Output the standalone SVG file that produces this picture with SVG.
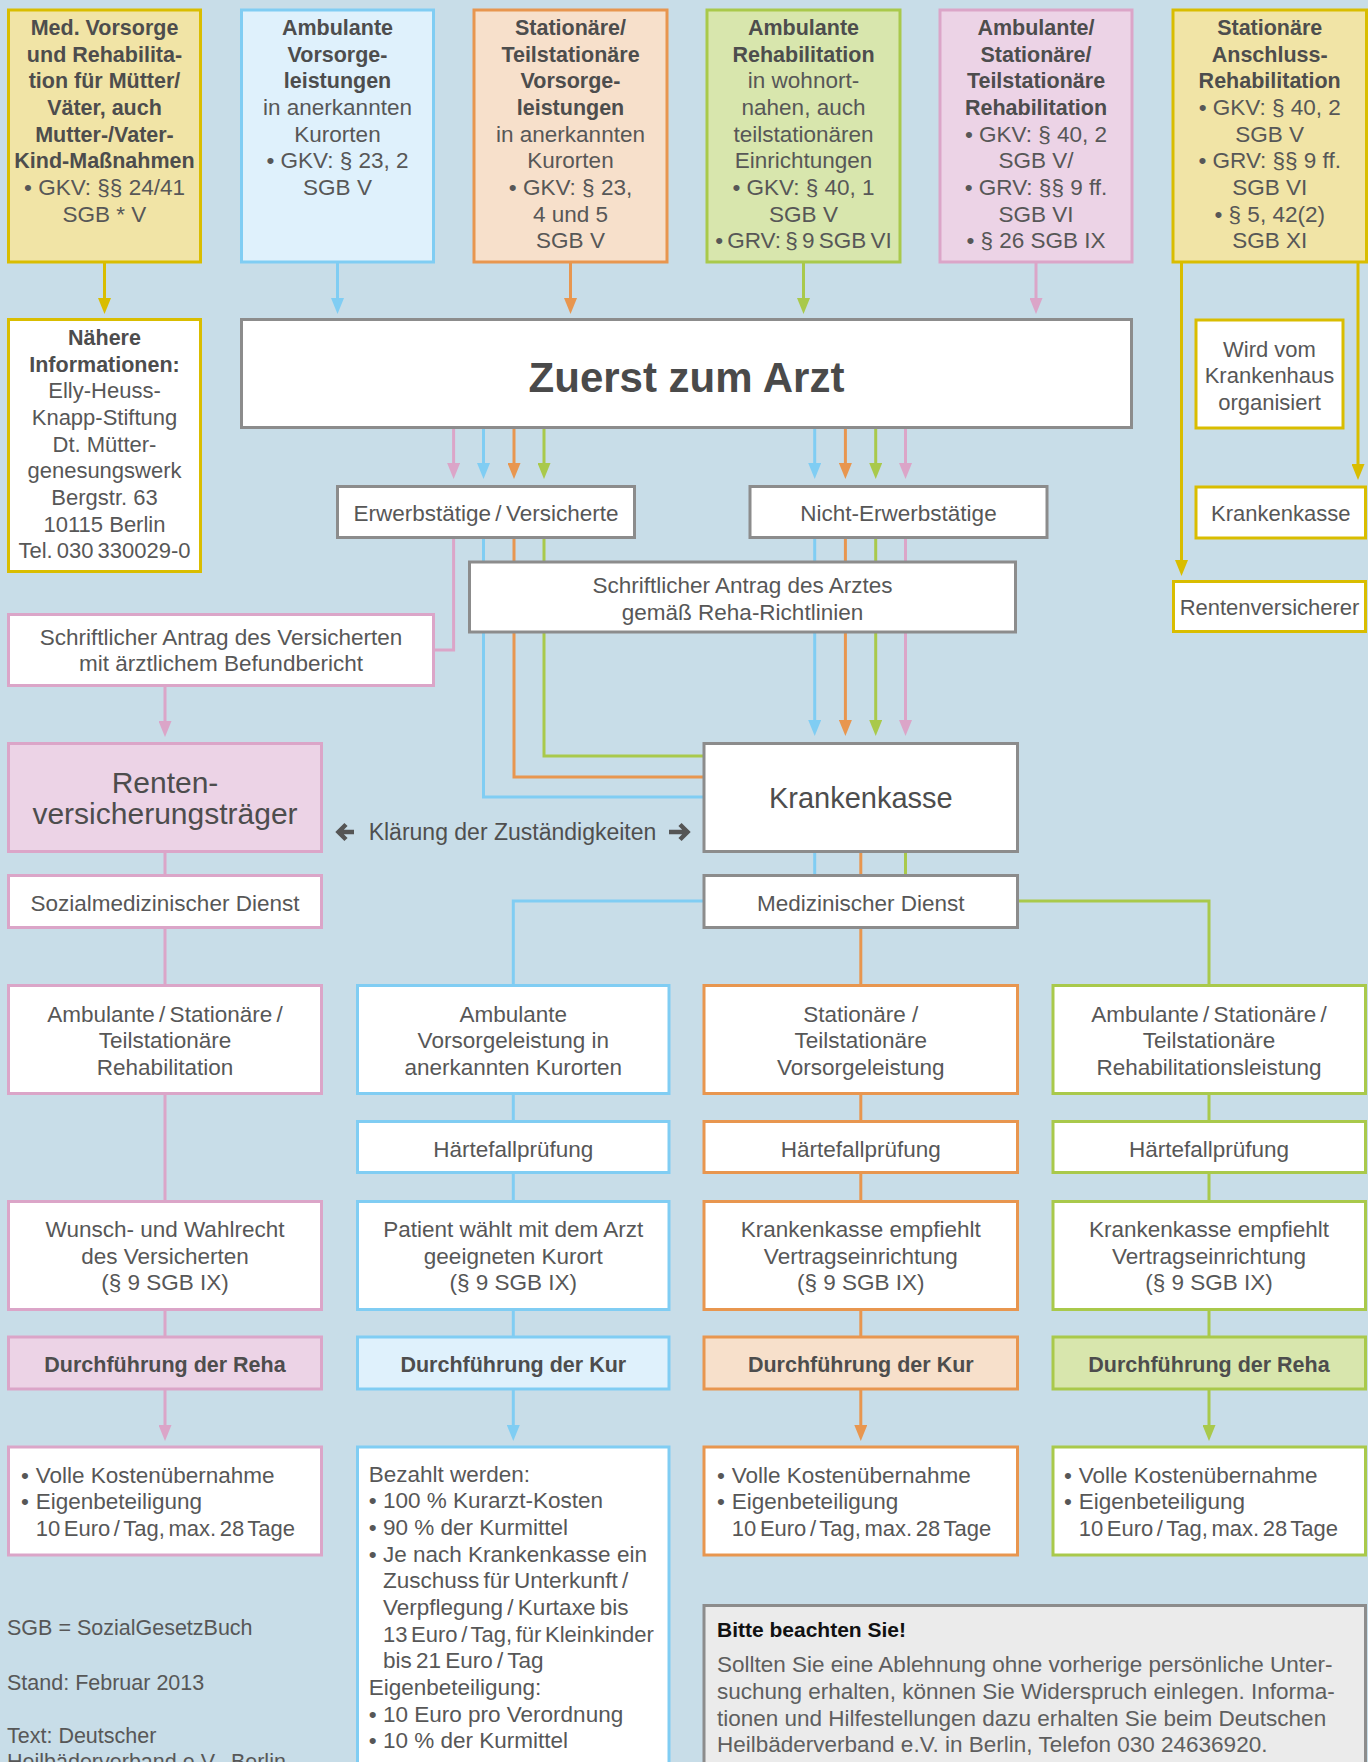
<svg xmlns="http://www.w3.org/2000/svg" width="1368" height="1762" viewBox="0 0 1368 1762">
<style>
text{font-family:"Liberation Sans",Arial,sans-serif;fill:#575757;font-size:22.5px;text-anchor:middle}
.b{font-weight:bold;fill:#4d4d4d;font-size:21.5px}
.s{font-size:22px}
.l{text-anchor:start}
.ws{word-spacing:-2px}
.ws2{word-spacing:-2.5px}
.n{stroke-width:3}
.wht{fill:#ffffff}
.gy{stroke:#8c8c8c}
.ye{stroke:#d9bd00}
.bl{stroke:#80cdf3}
.or{stroke:#e8964f}
.gr{stroke:#a9c94b}
.pk{stroke:#dba5c8}
.fye{fill:#f1e4a6}
.fbl{fill:#dff1fc}
.for{fill:#f7e0cb}
.fgr{fill:#d8e6ad}
.fpk{fill:#ecd3e6}
#connectors path{fill:none;stroke-width:3}
</style>
<defs>
<marker id="ay" viewBox="0 0 16 13" refX="8" refY="6.5" markerWidth="16" markerHeight="13" markerUnits="userSpaceOnUse" orient="auto"><path d="M0,0 L16,6.5 L0,13 z" fill="#d9bd00"/></marker>
<marker id="ab" viewBox="0 0 16 13" refX="8" refY="6.5" markerWidth="16" markerHeight="13" markerUnits="userSpaceOnUse" orient="auto"><path d="M0,0 L16,6.5 L0,13 z" fill="#80cdf3"/></marker>
<marker id="ao" viewBox="0 0 16 13" refX="8" refY="6.5" markerWidth="16" markerHeight="13" markerUnits="userSpaceOnUse" orient="auto"><path d="M0,0 L16,6.5 L0,13 z" fill="#e8964f"/></marker>
<marker id="ag" viewBox="0 0 16 13" refX="8" refY="6.5" markerWidth="16" markerHeight="13" markerUnits="userSpaceOnUse" orient="auto"><path d="M0,0 L16,6.5 L0,13 z" fill="#a9c94b"/></marker>
<marker id="ap" viewBox="0 0 16 13" refX="8" refY="6.5" markerWidth="16" markerHeight="13" markerUnits="userSpaceOnUse" orient="auto"><path d="M0,0 L16,6.5 L0,13 z" fill="#dba5c8"/></marker>
</defs>
<rect x="0" y="0" width="1368" height="1762" fill="#c8dde8"/>

<g id="connectors">
<path class="ye" d="M104.5,262 V306" marker-end="url(#ay)"/>
<path class="bl" d="M337.5,262 V306" marker-end="url(#ab)"/>
<path class="or" d="M570.5,262 V306" marker-end="url(#ao)"/>
<path class="gr" d="M803.5,262 V306" marker-end="url(#ag)"/>
<path class="pk" d="M1036,262 V306" marker-end="url(#ap)"/>
<path class="ye" d="M1181.5,262 V568" marker-end="url(#ay)"/>
<path class="ye" d="M1358,262 V472" marker-end="url(#ay)"/>
<path class="pk" d="M453.6,428 V471" marker-end="url(#ap)"/>
<path class="bl" d="M483.5,428 V471" marker-end="url(#ab)"/>
<path class="or" d="M514,428 V471" marker-end="url(#ao)"/>
<path class="gr" d="M544,428 V471" marker-end="url(#ag)"/>
<path class="bl" d="M814.7,428 V471" marker-end="url(#ab)"/>
<path class="or" d="M845.4,428 V471" marker-end="url(#ao)"/>
<path class="gr" d="M875.7,428 V471" marker-end="url(#ag)"/>
<path class="pk" d="M905.5,428 V471" marker-end="url(#ap)"/>
<path class="pk" d="M453.6,538 V650 H434"/>
<path class="bl" d="M483.5,538 V797 H704"/>
<path class="or" d="M514,538 V777 H704"/>
<path class="gr" d="M544,538 V756 H704"/>
<path class="bl" d="M814.7,538 V728" marker-end="url(#ab)"/>
<path class="or" d="M845.4,538 V728" marker-end="url(#ao)"/>
<path class="gr" d="M875.7,538 V728" marker-end="url(#ag)"/>
<path class="pk" d="M905.5,538 V728" marker-end="url(#ap)"/>
<path class="pk" d="M165,686 V729" marker-end="url(#ap)"/>
<path class="pk" d="M165,851 V876"/>
<path class="pk" d="M165,927 V986"/>
<path class="pk" d="M165,1093 V1202"/>
<path class="pk" d="M165,1309 V1338"/>
<path class="pk" d="M165,1389 V1433" marker-end="url(#ap)"/>
<path class="bl" d="M814.7,851 V876"/>
<path class="or" d="M860.8,851 V876"/>
<path class="gr" d="M905.5,851 V876"/>
<path class="bl" d="M704,901 H513.3 V986"/>
<path class="or" d="M860.8,927 V986"/>
<path class="gr" d="M1017.5,901 H1209 V986"/>
<path class="bl" d="M513.3,1093 V1122"/>
<path class="bl" d="M513.3,1172 V1202"/>
<path class="bl" d="M513.3,1309 V1338"/>
<path class="bl" d="M513.3,1389 V1433" marker-end="url(#ab)"/>
<path class="or" d="M860.8,1093 V1122"/>
<path class="or" d="M860.8,1172 V1202"/>
<path class="or" d="M860.8,1309 V1338"/>
<path class="or" d="M860.8,1389 V1433" marker-end="url(#ao)"/>
<path class="gr" d="M1209,1093 V1122"/>
<path class="gr" d="M1209,1172 V1202"/>
<path class="gr" d="M1209,1309 V1338"/>
<path class="gr" d="M1209,1389 V1433" marker-end="url(#ag)"/>
</g>

<g id="top1">
<rect class="n ye fye" x="8.5" y="10" width="192" height="252"/>
<text class="b"><tspan x="104.5" y="35">Med. Vorsorge</tspan><tspan x="104.5" y="61.7">und Rehabilita-</tspan><tspan x="104.5" y="88.3">tion für Mütter/</tspan><tspan x="104.5" y="115">Väter, auch</tspan><tspan x="104.5" y="141.7">Mutter-/Vater-</tspan><tspan x="104.5" y="168.3">Kind-Maßnahmen</tspan></text>
<text><tspan x="104.5" y="195">• GKV: §§ 24/41</tspan><tspan x="104.5" y="221.7">SGB * V</tspan></text>
</g>
<g id="top2">
<rect class="n bl fbl" x="241.5" y="10" width="192" height="252"/>
<text class="b"><tspan x="337.5" y="35">Ambulante</tspan><tspan x="337.5" y="61.7">Vorsorge-</tspan><tspan x="337.5" y="88.3">leistungen</tspan></text>
<text><tspan x="337.5" y="115">in anerkannten</tspan><tspan x="337.5" y="141.7">Kurorten</tspan><tspan x="337.5" y="168.3">• GKV: § 23, 2</tspan><tspan x="337.5" y="195">SGB V</tspan></text>
</g>
<g id="top3">
<rect class="n or for" x="474" y="10" width="193" height="252"/>
<text class="b"><tspan x="570.5" y="35">Stationäre/</tspan><tspan x="570.5" y="61.7">Teilstationäre</tspan><tspan x="570.5" y="88.3">Vorsorge-</tspan><tspan x="570.5" y="115">leistungen</tspan></text>
<text><tspan x="570.5" y="141.7">in anerkannten</tspan><tspan x="570.5" y="168.3">Kurorten</tspan><tspan x="570.5" y="195">• GKV: § 23,</tspan><tspan x="570.5" y="221.7">4 und 5</tspan><tspan x="570.5" y="248.3">SGB V</tspan></text>
</g>
<g id="top4">
<rect class="n gr fgr" x="707" y="10" width="193" height="252"/>
<text class="b"><tspan x="803.5" y="35">Ambulante</tspan><tspan x="803.5" y="61.7">Rehabilitation</tspan></text>
<text><tspan x="803.5" y="88.3">in wohnort-</tspan><tspan x="803.5" y="115">nahen, auch</tspan><tspan x="803.5" y="141.7">teilstationären</tspan><tspan x="803.5" y="168.3">Einrichtungen</tspan><tspan x="803.5" y="195">• GKV: § 40, 1</tspan><tspan x="803.5" y="221.7">SGB V</tspan><tspan class="ws" x="803.5" y="248.3">• GRV: § 9 SGB VI</tspan></text>
</g>
<g id="top5">
<rect class="n pk fpk" x="940" y="10" width="192" height="252"/>
<text class="b"><tspan x="1036" y="35">Ambulante/</tspan><tspan x="1036" y="61.7">Stationäre/</tspan><tspan x="1036" y="88.3">Teilstationäre</tspan><tspan x="1036" y="115">Rehabilitation</tspan></text>
<text><tspan x="1036" y="141.7">• GKV: § 40, 2</tspan><tspan x="1036" y="168.3">SGB V/</tspan><tspan x="1036" y="195">• GRV: §§ 9 ff.</tspan><tspan x="1036" y="221.7">SGB VI</tspan><tspan x="1036" y="248.3">• § 26 SGB IX</tspan></text>
</g>
<g id="top6">
<rect class="n ye fye" x="1173" y="10" width="193.5" height="252"/>
<text class="b"><tspan x="1269.7" y="35">Stationäre</tspan><tspan x="1269.7" y="61.7">Anschluss-</tspan><tspan x="1269.7" y="88.3">Rehabilitation</tspan></text>
<text><tspan x="1269.7" y="115">• GKV: § 40, 2</tspan><tspan x="1269.7" y="141.7">SGB V</tspan><tspan x="1269.7" y="168.3">• GRV: §§ 9 ff.</tspan><tspan x="1269.7" y="195">SGB VI</tspan><tspan x="1269.7" y="221.7">• § 5, 42(2)</tspan><tspan x="1269.7" y="248.3">SGB XI</tspan></text>
</g>

<g id="naehere">
<rect class="n ye wht" x="8.5" y="319.5" width="192" height="252"/>
<text class="b"><tspan x="104.5" y="345">Nähere</tspan><tspan x="104.5" y="371.7">Informationen:</tspan></text>
<text class="s"><tspan x="104.5" y="398.3">Elly-Heuss-</tspan><tspan x="104.5" y="425">Knapp-Stiftung</tspan><tspan x="104.5" y="451.7">Dt. Mütter-</tspan><tspan x="104.5" y="478.3">genesungswerk</tspan><tspan x="104.5" y="505">Bergstr. 63</tspan><tspan x="104.5" y="531.7">10115 Berlin</tspan><tspan class="ws" x="104.5" y="558.3">Tel. 030 330029-0</tspan></text>
</g>

<g id="zuerst">
<rect class="n gy wht" x="241.5" y="319.5" width="890" height="108"/>
<text x="686.5" y="392" style="font-weight:bold;font-size:42px;fill:#4a4a4a">Zuerst zum Arzt</text>
</g>

<g id="wird">
<rect class="n ye wht" x="1196" y="320" width="147" height="108"/>
<text class="s"><tspan x="1269.5" y="356.7">Wird vom</tspan><tspan x="1269.5" y="383.3">Krankenhaus</tspan><tspan x="1269.5" y="410">organisiert</tspan></text>
</g>

<g id="erwerb">
<rect class="n gy wht" x="337.5" y="486.5" width="297" height="51"/>
<text class="ws" x="486" y="521">Erwerbstätige / Versicherte</text>
</g>
<g id="nicht">
<rect class="n gy wht" x="750" y="486.5" width="297" height="51"/>
<text x="898.5" y="521">Nicht-Erwerbstätige</text>
</g>
<g id="kk-right">
<rect class="n ye wht" x="1196" y="487" width="169.5" height="51"/>
<text class="s" x="1280.7" y="521">Krankenkasse</text>
</g>

<g id="antrag-arzt">
<rect class="n gy wht" x="469.5" y="562" width="546" height="70"/>
<text><tspan x="742.5" y="593.3">Schriftlicher Antrag des Arztes</tspan><tspan x="742.5" y="620">gemäß Reha-Richtlinien</tspan></text>
</g>
<g id="antrag-vers">
<rect class="n pk wht" x="8.5" y="614.5" width="425" height="71"/>
<text><tspan x="221" y="645">Schriftlicher Antrag des Versicherten</tspan><tspan x="221" y="671">mit ärztlichem Befundbericht</tspan></text>
</g>
<g id="rentenvers">
<rect class="n ye wht" x="1173.5" y="581.5" width="192" height="50"/>
<text class="s" x="1269.5" y="615">Rentenversicherer</text>
</g>

<g id="renten">
<rect class="n pk fpk" x="8.5" y="743.5" width="313" height="108"/>
<text style="font-size:30px;fill:#4d4d4d"><tspan x="165" y="793">Renten-</tspan><tspan x="165" y="824">versicherungsträger</tspan></text>
</g>
<g id="klaerung">
<path d="M354,832 H339 M346,824.5 L338.5,832 L346,839.5" fill="none" stroke="#555555" stroke-width="4.5"/>
<text x="512.5" y="840" style="font-size:23px;fill:#4f4f4f">Klärung der Zuständigkeiten</text>
<path d="M669,832 H687 M680,824.5 L687.5,832 L680,839.5" fill="none" stroke="#555555" stroke-width="4.5"/>
</g>
<g id="krankenkasse">
<rect class="n gy wht" x="704" y="743.5" width="313.5" height="108"/>
<text x="860.8" y="808" style="font-size:29px;fill:#4d4d4d">Krankenkasse</text>
</g>

<g id="sozial">
<rect class="n pk wht" x="8.5" y="875.5" width="313" height="52"/>
<text x="165" y="911">Sozialmedizinischer Dienst</text>
</g>
<g id="med">
<rect class="n gy wht" x="704" y="875.5" width="313.5" height="52"/>
<text x="860.8" y="911">Medizinischer Dienst</text>
</g>

<g id="typ-pink">
<rect class="n pk wht" x="8.5" y="985.5" width="313" height="108"/>
<text><tspan class="ws" x="165" y="1021.7">Ambulante / Stationäre /</tspan><tspan x="165" y="1048.3">Teilstationäre</tspan><tspan x="165" y="1075">Rehabilitation</tspan></text>
</g>
<g id="typ-blue">
<rect class="n bl wht" x="357.5" y="985.5" width="311.5" height="108"/>
<text><tspan x="513.3" y="1021.7">Ambulante</tspan><tspan x="513.3" y="1048.3">Vorsorgeleistung in</tspan><tspan x="513.3" y="1075">anerkannten Kurorten</tspan></text>
</g>
<g id="typ-orange">
<rect class="n or wht" x="704" y="985.5" width="313.5" height="108"/>
<text><tspan x="860.8" y="1021.7">Stationäre /</tspan><tspan x="860.8" y="1048.3">Teilstationäre</tspan><tspan x="860.8" y="1075">Vorsorgeleistung</tspan></text>
</g>
<g id="typ-green">
<rect class="n gr wht" x="1053" y="985.5" width="312.5" height="108"/>
<text><tspan class="ws" x="1209" y="1021.7">Ambulante / Stationäre /</tspan><tspan x="1209" y="1048.3">Teilstationäre</tspan><tspan x="1209" y="1075">Rehabilitationsleistung</tspan></text>
</g>

<g id="haerte-blue">
<rect class="n bl wht" x="357.5" y="1121.5" width="311.5" height="51"/>
<text x="513.3" y="1157">Härtefallprüfung</text>
</g>
<g id="haerte-orange">
<rect class="n or wht" x="704" y="1121.5" width="313.5" height="51"/>
<text x="860.8" y="1157">Härtefallprüfung</text>
</g>
<g id="haerte-green">
<rect class="n gr wht" x="1053" y="1121.5" width="312.5" height="51"/>
<text x="1209" y="1157">Härtefallprüfung</text>
</g>

<g id="wahl-pink">
<rect class="n pk wht" x="8.5" y="1201.5" width="313" height="108"/>
<text><tspan x="165" y="1237">Wunsch- und Wahlrecht</tspan><tspan x="165" y="1263.5">des Versicherten</tspan><tspan x="165" y="1290">(§ 9 SGB IX)</tspan></text>
</g>
<g id="wahl-blue">
<rect class="n bl wht" x="357.5" y="1201.5" width="311.5" height="108"/>
<text><tspan x="513.3" y="1237">Patient wählt mit dem Arzt</tspan><tspan x="513.3" y="1263.5">geeigneten Kurort</tspan><tspan x="513.3" y="1290">(§ 9 SGB IX)</tspan></text>
</g>
<g id="wahl-orange">
<rect class="n or wht" x="704" y="1201.5" width="313.5" height="108"/>
<text><tspan x="860.8" y="1237">Krankenkasse empfiehlt</tspan><tspan x="860.8" y="1263.5">Vertragseinrichtung</tspan><tspan x="860.8" y="1290">(§ 9 SGB IX)</tspan></text>
</g>
<g id="wahl-green">
<rect class="n gr wht" x="1053" y="1201.5" width="312.5" height="108"/>
<text><tspan x="1209" y="1237">Krankenkasse empfiehlt</tspan><tspan x="1209" y="1263.5">Vertragseinrichtung</tspan><tspan x="1209" y="1290">(§ 9 SGB IX)</tspan></text>
</g>

<g id="durch-pink">
<rect class="n pk fpk" x="8.5" y="1337" width="313" height="52"/>
<text class="b" x="165" y="1372">Durchführung der Reha</text>
</g>
<g id="durch-blue">
<rect class="n bl fbl" x="357.5" y="1337" width="311.5" height="52"/>
<text class="b" x="513.3" y="1372">Durchführung der Kur</text>
</g>
<g id="durch-orange">
<rect class="n or for" x="704" y="1337" width="313.5" height="52"/>
<text class="b" x="860.8" y="1372">Durchführung der Kur</text>
</g>
<g id="durch-green">
<rect class="n gr fgr" x="1053" y="1337" width="312.5" height="52"/>
<text class="b" x="1209" y="1372">Durchführung der Reha</text>
</g>

<g id="kosten-pink">
<rect class="n pk wht" x="8.5" y="1447" width="313" height="108"/>
<text class="l"><tspan x="21" y="1482.7">•</tspan><tspan x="35.7">Volle Kostenübernahme</tspan><tspan x="21" y="1509.3">•</tspan><tspan x="35.7">Eigenbeteiligung</tspan><tspan class="ws2" x="35.7" y="1536" style="font-size:22px">10 Euro / Tag, max. 28 Tage</tspan></text>
</g>
<g id="kosten-blue">
<rect class="n bl wht" x="357.5" y="1447" width="311.5" height="340"/>
<text class="l"><tspan x="368.7" y="1481.7">Bezahlt werden:</tspan><tspan x="368.7" y="1508.3">•</tspan><tspan x="383">100 % Kurarzt-Kosten</tspan><tspan x="368.7" y="1535">•</tspan><tspan x="383">90 % der Kurmittel</tspan><tspan x="368.7" y="1561.7">•</tspan><tspan x="383">Je nach Krankenkasse ein</tspan><tspan class="ws" x="383" y="1588.3">Zuschuss für Unterkunft /</tspan><tspan class="ws" x="383" y="1615">Verpflegung / Kurtaxe bis</tspan><tspan class="ws2" x="383" y="1641.7" style="font-size:22px">13 Euro / Tag, für Kleinkinder</tspan><tspan class="ws" x="383" y="1668.3">bis 21 Euro / Tag</tspan><tspan x="368.7" y="1695">Eigenbeteiligung:</tspan><tspan x="368.7" y="1721.7">•</tspan><tspan x="383">10 Euro pro Verordnung</tspan><tspan x="368.7" y="1748.3">•</tspan><tspan x="383">10 % der Kurmittel</tspan></text>
</g>
<g id="kosten-orange">
<rect class="n or wht" x="704" y="1447" width="313.5" height="108"/>
<text class="l"><tspan x="717" y="1482.7">•</tspan><tspan x="731.8">Volle Kostenübernahme</tspan><tspan x="717" y="1509.3">•</tspan><tspan x="731.8">Eigenbeteiligung</tspan><tspan class="ws2" x="731.8" y="1536" style="font-size:22px">10 Euro / Tag, max. 28 Tage</tspan></text>
</g>
<g id="kosten-green">
<rect class="n gr wht" x="1053" y="1447" width="312.5" height="108"/>
<text class="l"><tspan x="1064" y="1482.7">•</tspan><tspan x="1078.7">Volle Kostenübernahme</tspan><tspan x="1064" y="1509.3">•</tspan><tspan x="1078.7">Eigenbeteiligung</tspan><tspan class="ws2" x="1078.7" y="1536" style="font-size:22px">10 Euro / Tag, max. 28 Tage</tspan></text>
</g>

<g id="footnotes">
<text class="l" x="7" y="1635" style="font-size:21.5px">SGB = SozialGesetzBuch</text>
<text class="l" x="7" y="1690" style="font-size:21.5px">Stand: Februar 2013</text>
<text class="l" style="font-size:21.5px"><tspan x="7" y="1742.7">Text: Deutscher</tspan><tspan x="7" y="1769">Heilbäderverband e.V., Berlin</tspan></text>
</g>

<g id="bitte">
<rect class="n gy" x="704" y="1605.5" width="661.5" height="200" fill="#ebebeb"/>
<text class="l" x="717" y="1636.7" style="font-weight:bold;font-size:21px;fill:#111111">Bitte beachten Sie!</text>
<text class="l" style="font-size:22.5px;fill:#5e5e5e"><tspan x="717" y="1671.7">Sollten Sie eine Ablehnung ohne vorherige persönliche Unter-</tspan><tspan x="717" y="1698.7">suchung erhalten, können Sie Widerspruch einlegen. Informa-</tspan><tspan x="717" y="1725.7">tionen und Hilfestellungen dazu erhalten Sie beim Deutschen</tspan><tspan x="717" y="1751.7">Heilbäderverband e.V. in Berlin, Telefon 030 24636920.</tspan></text>
</g>
</svg>
